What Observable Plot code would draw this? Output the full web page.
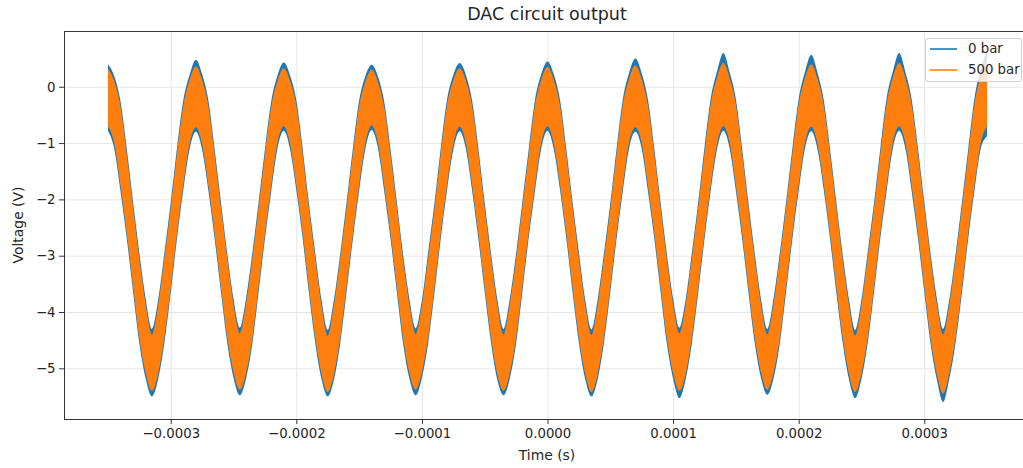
<!DOCTYPE html>
<html>
<head>
<meta charset="utf-8">
<script src="https://cdn.jsdelivr.net/npm/d3@7"></script>
<script src="https://cdn.jsdelivr.net/npm/@observablehq/plot@0.6"></script>
<style>
  html, body { margin: 0; padding: 0; background: #fff; overflow: hidden; }
  #wrap { position: relative; width: 1023px; height: 468px; overflow: hidden; font-family: "DejaVu Sans", sans-serif; color: #262626; }
  #title { position: absolute; top: 4px; left: 0; width: 1094px; text-align: center; font-size: 17.5px; }
  #xlabel { position: absolute; top: 447px; left: 0; width: 1094px; text-align: center; font-size: 13.9px; }
  #ylabel { position: absolute; left: 18px; top: 225px; font-size: 13.9px; white-space: nowrap; transform: translate(-50%, -50%) rotate(-90deg); }
  #legend { position: absolute; left: 925px; top: 38px; width: 97px; height: 44px; box-sizing: border-box;
            border: 1px solid #d0d0d0; border-radius: 3px; background: rgba(255,255,255,0.8); font-size: 13.3px; }
  .li { position: absolute; left: 4px; height: 18px; width: 92px; }
  .li .sw { position: absolute; left: 0; top: 8px; width: 27px; height: 2px; }
  .li .tx { position: absolute; left: 38px; top: 0; line-height: 18px; white-space: nowrap; }
  #chart svg { position: absolute; left: 0; top: 0; max-width: none !important; }
</style>
</head>
<body>
<div id="wrap">
  <div id="chart"></div>
  <div id="title">DAC circuit output</div>
  <div id="xlabel">Time (s)</div>
  <div id="ylabel">Voltage (V)</div>
  <div id="legend">
    <div class="li" style="top:1px"><div class="sw" style="background:#1f77b4;opacity:0.8"></div><div class="tx">0 bar</div></div>
    <div class="li" style="top:22px"><div class="sw" style="background:#ff7f0e;opacity:0.8"></div><div class="tx">500 bar</div></div>
  </div>
</div>
<script>
// sample times in microseconds
const timeUs = [
  -350,-345,-340,-335,-330,-325,-320,-315,-310,-305,-300,-295,-290,-285,
  -280,-275,-270,-265,-260,-255,-250,-245,-240,-235,-230,-225,-220,-215,
  -210,-205,-200,-195,-190,-185,-180,-175,-170,-165,-160,-155,-150,-145,
  -140,-135,-130,-125,-120,-115,-110,-105,-100,-95,-90,-85,-80,-75,
  -70,-65,-60,-55,-50,-45,-40,-35,-30,-25,-20,-15,-10,-5,
  0,5,10,15,20,25,30,35,40,45,50,55,60,65,
  70,75,80,85,90,95,100,105,110,115,120,125,130,135,
  140,145,150,155,160,165,170,175,180,185,190,195,200,205,
  210,215,220,225,230,235,240,245,250,255,260,265,270,275,
  280,285,290,295,300,305,310,315,320,325,330,335,340,345,
  350
];

// "0 bar" trace: upper / lower envelope of the noisy signal (V)
const bar0Upper = [
  0.40,0.19,-0.26,-1.10,-2.04,-2.95,-3.76,-4.30,-3.78,-2.94,-2.05,-1.08,-0.24,0.21,
  0.48,0.22,-0.25,-1.12,-2.05,-2.96,-3.77,-4.28,-3.75,-2.95,-2.04,-1.11,-0.26,0.20,
  0.43,0.20,-0.24,-1.09,-2.07,-2.94,-3.78,-4.32,-3.77,-2.96,-2.05,-1.10,-0.25,0.19,
  0.39,0.18,-0.27,-1.11,-2.04,-2.97,-3.76,-4.29,-3.79,-2.93,-2.06,-1.09,-0.23,0.21,
  0.42,0.21,-0.25,-1.10,-2.06,-2.95,-3.77,-4.30,-3.76,-2.96,-2.04,-1.12,-0.24,0.22,
  0.45,0.22,-0.24,-1.11,-2.05,-2.94,-3.78,-4.31,-3.77,-2.95,-2.07,-1.10,-0.22,0.25,
  0.50,0.24,-0.23,-1.09,-2.04,-2.96,-3.76,-4.28,-3.78,-2.94,-2.05,-1.08,-0.21,0.27,
  0.60,0.26,-0.22,-1.10,-2.06,-2.95,-3.77,-4.30,-3.76,-2.95,-2.04,-1.09,-0.22,0.26,
  0.57,0.25,-0.24,-1.11,-2.05,-2.97,-3.77,-4.32,-3.78,-2.93,-2.06,-1.10,-0.21,0.27,
  0.60,0.26,-0.23,-1.09,-2.04,-2.95,-3.76,-4.30,-3.77,-2.96,-2.05,-1.11,-0.20,0.30,
  0.65
];
const bar0Lower = [
  -0.78,-1.10,-1.86,-2.70,-3.64,-4.56,-5.18,-5.50,-5.19,-4.54,-3.66,-2.69,-1.84,-1.11,
  -0.80,-1.12,-1.85,-2.71,-3.65,-4.55,-5.17,-5.48,-5.18,-4.56,-3.64,-2.70,-1.86,-1.09,
  -0.78,-1.11,-1.84,-2.69,-3.66,-4.54,-5.19,-5.50,-5.20,-4.55,-3.65,-2.71,-1.85,-1.10,
  -0.77,-1.09,-1.86,-2.70,-3.64,-4.56,-5.18,-5.48,-5.17,-4.55,-3.66,-2.70,-1.84,-1.12,
  -0.79,-1.10,-1.85,-2.71,-3.65,-4.54,-5.20,-5.48,-5.18,-4.56,-3.64,-2.69,-1.86,-1.10,
  -0.78,-1.11,-1.84,-2.70,-3.66,-4.55,-5.19,-5.50,-5.19,-4.54,-3.65,-2.70,-1.85,-1.09,
  -0.80,-1.10,-1.86,-2.69,-3.64,-4.56,-5.18,-5.53,-5.20,-4.55,-3.66,-2.71,-1.84,-1.11,
  -0.78,-1.09,-1.85,-2.70,-3.65,-4.55,-5.17,-5.47,-5.18,-4.56,-3.64,-2.70,-1.85,-1.10,
  -0.79,-1.11,-1.84,-2.71,-3.66,-4.54,-5.19,-5.53,-5.19,-4.55,-3.65,-2.69,-1.86,-1.09,
  -0.78,-1.10,-1.86,-2.70,-3.64,-4.56,-5.20,-5.60,-5.18,-4.54,-3.66,-2.70,-1.84,-1.10,
  -0.88
];

// "500 bar" trace: upper / lower envelope (V)
const bar500Upper = [
  0.32,0.10,-0.36,-1.20,-2.14,-3.06,-3.86,-4.40,-3.88,-3.04,-2.16,-1.18,-0.34,0.12,
  0.36,0.12,-0.35,-1.22,-2.15,-3.05,-3.87,-4.38,-3.85,-3.06,-2.14,-1.21,-0.36,0.10,
  0.33,0.10,-0.34,-1.19,-2.17,-3.04,-3.88,-4.42,-3.87,-3.05,-2.15,-1.20,-0.35,0.09,
  0.30,0.08,-0.37,-1.21,-2.14,-3.07,-3.86,-4.39,-3.89,-3.03,-2.16,-1.19,-0.33,0.11,
  0.33,0.11,-0.35,-1.20,-2.16,-3.05,-3.87,-4.40,-3.86,-3.06,-2.14,-1.22,-0.34,0.12,
  0.35,0.12,-0.34,-1.21,-2.15,-3.04,-3.88,-4.41,-3.87,-3.05,-2.17,-1.20,-0.32,0.14,
  0.38,0.13,-0.33,-1.19,-2.14,-3.06,-3.86,-4.38,-3.88,-3.04,-2.15,-1.18,-0.31,0.16,
  0.42,0.15,-0.32,-1.20,-2.16,-3.05,-3.87,-4.40,-3.86,-3.05,-2.14,-1.19,-0.32,0.15,
  0.40,0.14,-0.34,-1.21,-2.15,-3.07,-3.87,-4.42,-3.88,-3.03,-2.16,-1.20,-0.31,0.16,
  0.42,0.15,-0.33,-1.19,-2.14,-3.05,-3.86,-4.40,-3.87,-3.06,-2.15,-1.21,-0.30,0.18,
  0.48
];
const bar500Lower = [
  -0.70,-1.00,-1.76,-2.60,-3.54,-4.46,-5.08,-5.40,-5.09,-4.44,-3.56,-2.59,-1.74,-1.01,
  -0.72,-1.02,-1.75,-2.61,-3.55,-4.45,-5.07,-5.38,-5.08,-4.46,-3.54,-2.60,-1.76,-0.99,
  -0.70,-1.01,-1.74,-2.59,-3.56,-4.44,-5.09,-5.42,-5.10,-4.45,-3.55,-2.61,-1.75,-1.00,
  -0.69,-0.99,-1.76,-2.60,-3.54,-4.46,-5.08,-5.38,-5.07,-4.45,-3.56,-2.60,-1.74,-1.02,
  -0.71,-1.00,-1.75,-2.61,-3.55,-4.44,-5.10,-5.40,-5.08,-4.46,-3.54,-2.59,-1.76,-1.00,
  -0.70,-1.01,-1.74,-2.60,-3.56,-4.45,-5.09,-5.42,-5.09,-4.44,-3.55,-2.60,-1.75,-0.99,
  -0.72,-1.00,-1.76,-2.59,-3.54,-4.46,-5.08,-5.40,-5.10,-4.45,-3.56,-2.61,-1.74,-1.01,
  -0.70,-0.99,-1.75,-2.60,-3.55,-4.45,-5.07,-5.38,-5.08,-4.46,-3.54,-2.60,-1.75,-1.00,
  -0.71,-1.01,-1.74,-2.61,-3.56,-4.44,-5.09,-5.42,-5.09,-4.45,-3.55,-2.59,-1.76,-0.99,
  -0.70,-1.00,-1.76,-2.60,-3.54,-4.46,-5.10,-5.45,-5.08,-4.44,-3.56,-2.60,-1.74,-1.00,
  -0.70
];

const xTicks = [-0.0003, -0.0002, -0.0001, 0, 0.0001, 0.0002, 0.0003];
const yTicks = [-5, -4, -3, -2, -1, 0];

const rows = timeUs.map((t, i) => ({
  t: t / 1e6,
  hi0: bar0Upper[i], lo0: bar0Lower[i],
  hi500: bar500Upper[i], lo500: bar500Lower[i]
}));

const minus = s => s.replace("-", "\u2212");
const fmtX = d => minus(Math.abs(d) < 1e-12 ? "0.0000" : d.toFixed(4));
const fmtY = d => minus(String(d));

const chart = Plot.plot({
  width: 1040,
  height: 468,
  marginTop: 31,
  marginBottom: 49,
  marginLeft: 64,
  marginRight: 9,
  style: { fontFamily: "DejaVu Sans, sans-serif", fontSize: "13.3px", color: "#262626", background: "transparent", maxWidth: "none" },
  x: { domain: [-0.000385, 0.000385] },
  y: { domain: [-5.9, 0.99] },
  marks: [
    Plot.gridX(xTicks, { stroke: "#e6e6e6", strokeOpacity: 1, strokeWidth: 1 }),
    Plot.gridY(yTicks, { stroke: "#e6e6e6", strokeOpacity: 1, strokeWidth: 1 }),
    Plot.areaY(rows, { x: "t", y1: "lo0", y2: "hi0", fill: "#1f77b4", curve: "monotone-x" }),
    Plot.areaY(rows, { x: "t", y1: "lo500", y2: "hi500", fill: "#ff7f0e", curve: "monotone-x" }),
    Plot.frame({ stroke: "#333", strokeWidth: 1 }),
    Plot.axisX({ ticks: xTicks, tickFormat: fmtX, tickSize: 5, tickPadding: 4, label: null, stroke: "#333" }),
    Plot.axisY({ ticks: yTicks, tickFormat: fmtY, tickSize: 5, tickPadding: 4, label: null, stroke: "#333" })
  ]
});
chart.style.maxWidth = "none";
chart.setAttribute("width", 1040);
document.getElementById("chart").appendChild(chart);
</script>
</body>
</html>
